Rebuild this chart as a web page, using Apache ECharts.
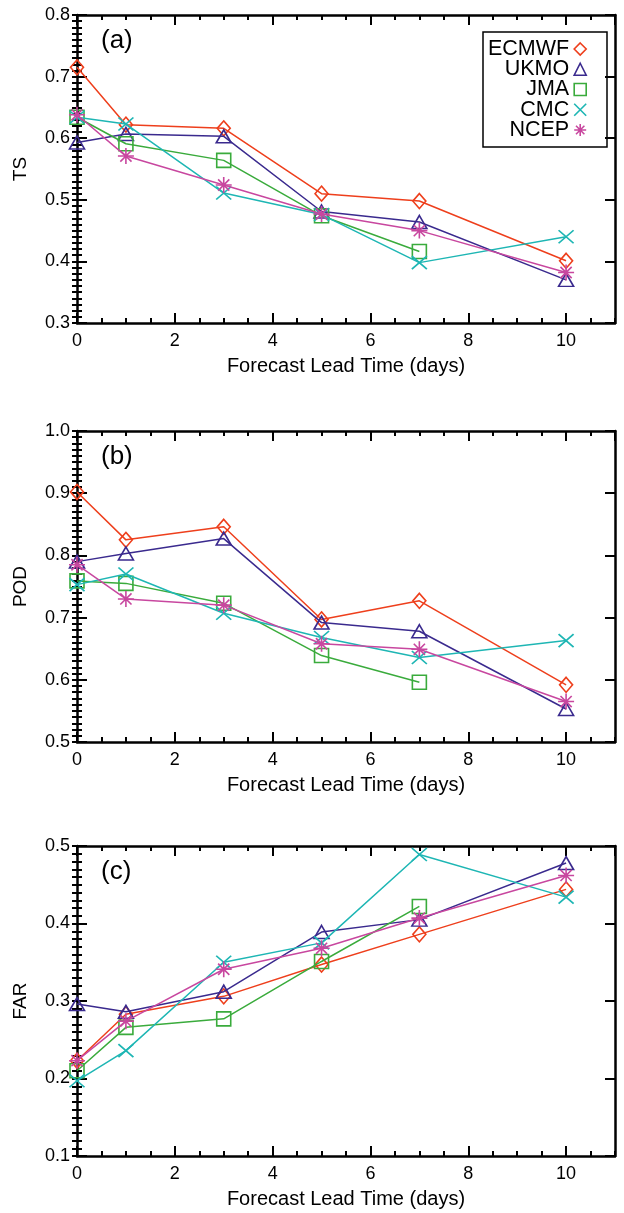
<!DOCTYPE html>
<html>
<head>
<meta charset="utf-8">
<script src="https://cdn.jsdelivr.net/npm/echarts@6/dist/echarts.min.js"></script>
<style>
html,body{margin:0;padding:0;background:#fff;}
#chart{width:624px;height:1213px;}
</style>
</head>
<body>
<div id="chart"></div>
<script>
// ---------- data ----------
const days = [0, 1, 3, 5, 7, 10];
const models = ['ECMWF', 'UKMO', 'JMA', 'CMC', 'NCEP'];
const xTickLabels = [0, 2, 4, 6, 8, 10];

const ecmwfTS = [0.715, 0.622, 0.616, 0.510, 0.498, 0.401];
const ukmoTS  = [0.593, 0.607, 0.603, 0.481, 0.464, 0.370];
const jmaTS   = [0.634, 0.591, 0.564, 0.474, 0.416, null];
const cmcTS   = [0.634, 0.623, 0.511, 0.476, 0.398, 0.440];
const ncepTS  = [0.638, 0.571, 0.524, 0.477, 0.450, 0.382];

const ecmwfPOD = [0.902, 0.825, 0.846, 0.697, 0.727, 0.592];
const ukmoPOD  = [0.790, 0.803, 0.827, 0.692, 0.678, 0.553];
const jmaPOD   = [0.759, 0.755, 0.723, 0.639, 0.596, null];
const cmcPOD   = [0.753, 0.770, 0.707, 0.668, 0.636, 0.663];
const ncepPOD  = [0.785, 0.730, 0.720, 0.658, 0.649, 0.565];

const ecmwfFAR = [0.223, 0.283, 0.306, 0.347, 0.386, 0.444];
const ukmoFAR  = [0.296, 0.286, 0.312, 0.389, 0.405, 0.478];
const jmaFAR   = [0.210, 0.266, 0.277, 0.351, 0.422, null];
const cmcFAR   = [0.197, 0.236, 0.350, 0.375, 0.489, 0.434];
const ncepFAR  = [0.223, 0.274, 0.341, 0.368, 0.407, 0.462];

const panelLabels = ['(a)', '(b)', '(c)'];
const yNames = ['TS', 'POD', 'FAR'];
const xName = 'Forecast Lead Time (days)';
const yRanges = [[0.3, 0.8], [0.5, 1.0], [0.1, 0.5]];
const panelData = [
  [ecmwfTS, ukmoTS, jmaTS, cmcTS, ncepTS],
  [ecmwfPOD, ukmoPOD, jmaPOD, cmcPOD, ncepPOD],
  [ecmwfFAR, ukmoFAR, jmaFAR, cmcFAR, ncepFAR]
];

// ---------- styles ----------
const colors = ['#ee3f1c', '#3a2a8e', '#3aab3c', '#1eb6b4', '#c8479f'];
const symbols = [
  'path://M5,0L10,5L5,10L0,5Z',
  'path://M5,0L10,10L0,10Z',
  'path://M0,0L10,0L10,10L0,10Z',
  'path://M0,0L10,10M10,0L0,10',
  'path://M5,0L5,10M0,5L10,5M1.5,1.5L8.5,8.5M8.5,1.5L1.5,8.5'
];
const symbolSizes = [[13, 15], [15, 13], [14, 14], [15, 13], [16, 16]];
const FONT = 'Liberation Sans, Arial, Helvetica, sans-serif';
const grids = [
  {top: 15, height: 308},
  {top: 431, height: 311},
  {top: 846, height: 310}
];

const option = {
  animation: false,
  backgroundColor: '#fff',
  textStyle: {fontFamily: FONT, color: '#000'},
  grid: [], xAxis: [], yAxis: [], series: [], title: []
};

const axisLine = {show: true, onZero: false, lineStyle: {color: '#000', width: 2.5}};
const majorTick = {show: true, inside: true, length: 10, lineStyle: {color: '#000', width: 2}};
const minorTickStyle = {show: true, inside: true, length: 5, lineStyle: {color: '#000', width: 2}};

grids.forEach((g, i) => {
  option.grid.push({left: 77, right: 9, top: g.top, height: g.height, containLabel: false});
  const base = {gridIndex: i, type: 'value', min: 0, max: 11, splitLine: {show: false}};
  // bottom major
  option.xAxis.push(Object.assign({}, base, {
    position: 'bottom', interval: 2,
    axisLine: axisLine, axisTick: majorTick,
    axisLabel: {show: true, margin: 9, fontSize: 18, color: '#000', fontFamily: FONT, showMaxLabel: false,
      formatter: v => (xTickLabels.indexOf(v) >= 0 ? String(v) : '')},
    name: xName, nameLocation: 'middle', nameGap: 33,
    nameTextStyle: {fontSize: 20, color: '#000', fontFamily: FONT}
  }));
  // bottom minor
  option.xAxis.push(Object.assign({}, base, {
    position: 'bottom', interval: 0.5, axisLine: {show: false},
    axisTick: minorTickStyle, axisLabel: {show: false}
  }));
  // top major
  option.xAxis.push(Object.assign({}, base, {
    position: 'top', interval: 2, axisLine: axisLine, axisTick: majorTick, axisLabel: {show: false}
  }));
  // top minor
  option.xAxis.push(Object.assign({}, base, {
    position: 'top', interval: 0.5, axisLine: {show: false},
    axisTick: minorTickStyle, axisLabel: {show: false}
  }));
  const yb = {gridIndex: i, type: 'value', min: yRanges[i][0], max: yRanges[i][1], splitLine: {show: false}};
  // left major
  option.yAxis.push(Object.assign({}, yb, {
    position: 'left', interval: 0.1, axisLine: axisLine, axisTick: majorTick,
    axisLabel: {show: true, margin: 7, fontSize: 18, color: '#000', fontFamily: FONT,
      formatter: v => v.toFixed(1)},
    name: yNames[i], nameLocation: 'middle', nameGap: 47, nameRotate: 90,
    nameTextStyle: {fontSize: 19, color: '#000', fontFamily: FONT}
  }));
  // left minor
  option.yAxis.push(Object.assign({}, yb, {
    position: 'left', interval: 0.01, axisLine: {show: false},
    axisTick: minorTickStyle, axisLabel: {show: false}
  }));
  // right major
  option.yAxis.push(Object.assign({}, yb, {
    position: 'right', interval: 0.1, axisLine: axisLine, axisTick: majorTick, axisLabel: {show: false}
  }));
  // right minor
  option.yAxis.push(Object.assign({}, yb, {
    position: 'right', interval: 0.01, axisLine: {show: false},
    axisTick: minorTickStyle, axisLabel: {show: false}
  }));

  option.title.push({
    text: panelLabels[i], left: 101, top: g.top + 13,
    textStyle: {fontSize: 26, fontWeight: 'normal', color: '#000', fontFamily: FONT}, padding: 0
  });

  panelData[i].forEach((vals, m) => {
    const pts = [];
    days.forEach((d, k) => { if (vals[k] !== null) pts.push([d, vals[k]]); });
    option.series.push({
      name: models[m], type: 'line', xAxisIndex: i * 4, yAxisIndex: i * 4,
      data: pts, symbol: symbols[m], symbolSize: symbolSizes[m],
      lineStyle: {color: colors[m], width: 1.5},
      itemStyle: {color: 'transparent', borderColor: colors[m], borderWidth: 1.6},
      z: 2 + m, clip: false
    });
  });
});

option.legend = {
  orient: 'vertical', align: 'right', left: 483, top: 32,
  padding: [6, 20, 6, 5], itemGap: -1.75, itemWidth: 12, itemHeight: 12,
  borderColor: '#000', borderWidth: 1.5, selectedMode: false,
  textStyle: {fontSize: 21.5, color: '#000', fontFamily: FONT},
  data: models.map((n, m) => ({
    name: n, icon: symbols[m],
    itemStyle: {color: 'transparent', borderColor: colors[m], borderWidth: 1.6}
  }))
};

const chart = echarts.init(document.getElementById('chart'), null, {renderer: 'canvas'});
chart.setOption(option);
</script>
</body>
</html>
